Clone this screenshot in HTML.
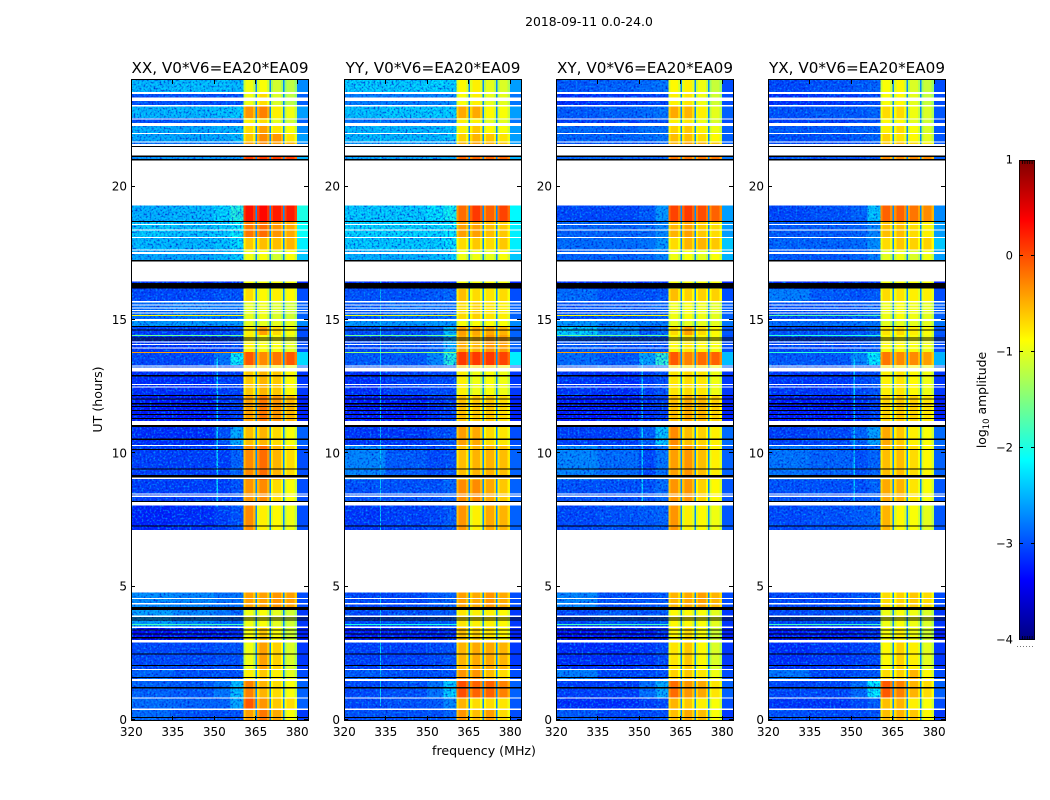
<!DOCTYPE html>
<html lang="en">
<head>
<meta charset="utf-8">
<title>2018-09-11 0.0-24.0 dynamic spectra</title>
<style>
html,body{margin:0;padding:0;background:#fff;width:1050px;height:800px;overflow:hidden}
svg{display:block}
text{font-family:"DejaVu Sans","Liberation Sans",sans-serif;fill:#000}
</style>
</head>
<body>
<svg id="fig" xmlns="http://www.w3.org/2000/svg" width="1050" height="800" viewBox="0 0 1050 800">
<defs>
<filter id="speckle" x="0" y="0" width="100%" height="100%" color-interpolation-filters="sRGB">
<feTurbulence type="fractalNoise" baseFrequency="0.5" numOctaves="2" seed="4"/>
<feColorMatrix type="matrix" values="0 0 0 0 0  0 0 0 0 0.1  0 0 0 0 0.8  2.6 0 0 0 -1.2"/>
</filter>
<filter id="speckle-light" x="0" y="0" width="100%" height="100%" color-interpolation-filters="sRGB">
<feTurbulence type="fractalNoise" baseFrequency="0.5" numOctaves="2" seed="11"/>
<feColorMatrix type="matrix" values="0 0 0 0 0  0 0 0 0 0.62  0 0 0 0 1  2.6 0 0 0 -1.25"/>
</filter>
<linearGradient id="cbar-gradient" x1="0" y1="1" x2="0" y2="0"></linearGradient>
</defs>
<text x="589" y="26" font-size="12.4" text-anchor="middle">2018-09-11 0.0-24.0</text>
<text x="484" y="755" font-size="12.6" text-anchor="middle">frequency (MHz)</text>
<text x="0" y="0" font-size="12.6" text-anchor="middle" transform="translate(102,399.5) rotate(-90)">UT (hours)</text>
<g id="panels"></g>
<g id="colorbar"></g>
<text x="0" y="0" font-size="12.4" text-anchor="middle" transform="translate(986,400) rotate(-90)">log<tspan font-size="8.5" dy="3">10</tspan><tspan dy="-3"> amplitude</tspan></text>
</svg>
<script>
// ---------- DATA (log10 amplitude) ----------
const panelNames = ["XX", "YY", "XY", "YX"];
const titleSuffix = ", V0*V6=EA20*EA09";
const xTickLabels = [320, 335, 350, 365, 380];
const yTickLabels = [0, 5, 10, 15, 20];
const colorbarTicks = [1, 0, -1, -2, -3, -4];

// UT edges of the time bands, top of the plot to the bottom
const utBandEdges = [24,23.55,23.06,22.58,22.28,22.01,21.68,21.49,21.11,21,19.29,18.68,18.08,17.63,17.25,16.44,16.17,15.71,14.96,14.78,14.44,13.8,13.31,13.07,12.19,11.21,11.06,10.28,9,8.18,8.06,7.13,4.79,4.13,3.45,2.96,1.88,1.46,0.83,0.38,0];

// Frequency columns of each row: 320-335, 335-350, 350-356, 356-360.5, sub-bands A B C D, 380-384
const xxLevels = [
[-2.4,-2.35,-2.35,-2.4,-0.95,-0.9,-1.1,-1.2,-2.7],
[-3,-3,-3,-3,-0.95,-0.7,-1.05,-1.2,-2.9],
[-2.4,-2.4,-2.35,-2.3,-0.35,-0.25,-0.8,-0.95,-2.6],
[-3,-2.9,-2.9,-2.9,-0.8,-0.7,-1,-1.1,-2.9],
[-2.45,-2.5,-2.45,-2.4,-0.7,-0.4,-0.75,-0.9,-2.7],
[-2.5,-2.5,-2.5,-2.4,-0.6,-0.3,-0.35,-0.75,-2.6],
[-2.8,-2.8,-2.8,-2.7,-0.4,-0.3,-0.4,-0.5,-2.7],
null,
[-2.6,-2.6,-2.6,-2.6,0.1,0.1,0.1,0.1,-2.5],
null,
[-2.45,-2.4,-2.25,-1.95,0.3,0.35,0.25,0.25,-2],
[-2.3,-2.35,-2.3,-2.1,-0.2,-0.15,-0.35,-0.45,-2.1],
[-2.4,-2.4,-2.35,-2.2,-0.6,-0.55,-0.55,-0.5,-2.2],
[-2.5,-2.5,-2.4,-2.3,-0.95,-0.9,-1.1,-0.9,-2.4],
null,
[-3.2,-3.2,-3.2,-3.2,-0.9,-0.9,-0.9,-0.9,-3.2],
[-3.05,-3.05,-3,-3,-0.7,-0.85,-0.8,-0.85,-3],
[-2.85,-2.75,-2.8,-2.8,-1,-0.95,-1.05,-1.1,-2.9],
[-2.6,-2.6,-2.6,-2.6,-1,-1,-1,-1,-2.7],
[-3.1,-3.1,-3.05,-3,-0.8,-0.4,-0.7,-0.9,-3],
[-3.15,-3.15,-3.1,-3.05,-0.8,-0.9,-0.9,-1,-3],
[-3.05,-3.05,-2.8,-2.1,-0.05,-0.3,-0.2,-0.05,-2.3],
[-3,-3,-3,-2.9,-0.7,-0.7,-0.8,-0.9,-2.9],
[-3.2,-3.2,-3.1,-3.1,-0.6,-0.5,-0.6,-0.85,-3.1],
[-3.3,-3.3,-3.2,-3.1,-0.4,-0.2,-0.35,-0.5,-3.2],
[-3.3,-3.3,-3.2,-3.1,-0.5,-0.5,-0.5,-0.5,-3.2],
[-3.2,-3.2,-3,-2.5,-0.55,-0.5,-0.7,-0.9,-2.9],
[-3.1,-3.1,-3.1,-2.9,-0.3,-0.15,-0.5,-0.7,-3],
[-3.1,-3.1,-3.1,-3,-0.35,-0.3,-0.7,-0.9,-3],
[-3.1,-3.1,-3.1,-3,-0.35,-0.3,-0.7,-0.9,-3],
[-3.25,-3.2,-3.1,-3,-0.3,-0.8,-0.85,-0.95,-3],
null,
[-2.65,-2.7,-2.8,-2.8,-0.4,-0.4,-0.35,-0.4,-3],
[-2.55,-2.7,-2.8,-2.9,-0.95,-0.9,-1,-1.1,-3.1],
[-3.4,-3.3,-3.3,-3.2,-0.9,-0.6,-0.9,-1.1,-3.2],
[-3.05,-3.05,-3,-3,-0.95,-0.4,-0.65,-1.05,-3.1],
[-2.9,-3,-3,-3,-0.8,-0.6,-0.8,-1,-3],
[-2.9,-2.95,-2.8,-2.4,-0.25,-0.5,-0.7,-0.9,-2.9],
[-2.85,-2.9,-2.9,-2.5,-0.05,-0.35,-0.6,-0.7,-2.9],
[-2.85,-3,-3,-3,-0.4,-0.2,-0.45,-0.9,-3.1]
];
const yyLevels = [
[-2.3,-2.3,-2.25,-2.3,-0.85,-0.8,-1,-1.05,-2.6],
[-2.75,-2.75,-2.7,-2.65,-0.9,-0.8,-1,-1,-2.8],
[-2.35,-2.3,-2.3,-2.3,-0.45,-0.45,-0.85,-0.9,-2.6],
[-2.8,-2.8,-2.75,-2.7,-0.8,-0.8,-1,-1,-2.8],
[-2.4,-2.4,-2.4,-2.35,-0.8,-0.6,-0.85,-0.9,-2.6],
[-2.4,-2.4,-2.4,-2.35,-0.65,-0.5,-0.6,-0.75,-2.6],
[-2.6,-2.6,-2.6,-2.6,-0.5,-0.4,-0.5,-0.6,-2.6],
null,
[-2.5,-2.5,-2.5,-2.5,-0.1,-0.1,-0.1,-0.1,-2.5],
null,
[-2.3,-2.3,-2.2,-2.05,-0.15,0.1,-0.1,0.05,-2.15],
[-2.25,-2.25,-2.25,-2.15,-0.4,-0.4,-0.55,-0.6,-2.2],
[-2.3,-2.3,-2.3,-2.2,-0.7,-0.6,-0.7,-0.6,-2.2],
[-2.45,-2.45,-2.4,-2.3,-0.95,-0.95,-1,-0.9,-2.4],
null,
[-3.2,-3.2,-3.2,-3.2,-0.9,-0.9,-0.9,-0.9,-3.2],
[-3,-3,-2.95,-2.9,-0.55,-0.7,-0.75,-0.7,-3],
[-2.95,-2.85,-2.85,-2.85,-0.7,-0.65,-0.75,-0.8,-2.9],
[-2.6,-2.6,-2.6,-2.6,-0.9,-0.9,-0.9,-0.9,-2.7],
[-3,-3,-2.9,-2.4,-0.4,-0.45,-0.45,-0.5,-2.9],
[-3.05,-3,-2.9,-2.5,-0.45,-0.5,-0.35,-0.4,-2.9],
[-2.95,-2.95,-2.7,-1.95,0.1,0.1,0.1,0.05,-2.2],
[-3,-3,-3,-2.9,-0.6,-0.7,-0.7,-0.8,-2.9],
[-3.2,-3.1,-3.05,-3.05,-0.8,-0.95,-0.9,-0.95,-3.1],
[-3.3,-3.3,-3.2,-3.1,-0.55,-0.6,-0.6,-0.7,-3.2],
[-3.3,-3.3,-3.2,-3.1,-0.6,-0.6,-0.6,-0.6,-3.2],
[-3.15,-3.15,-3.05,-3,-0.4,-0.45,-0.7,-0.75,-3],
[-2.7,-2.95,-3.05,-3,-0.55,-0.5,-0.5,-0.55,-2.9],
[-3,-3,-3,-2.9,-0.3,-0.3,-0.45,-0.6,-2.9],
[-3,-3,-3,-2.9,-0.3,-0.3,-0.45,-0.6,-2.9],
[-3.15,-3.1,-3.05,-2.95,-0.35,-0.8,-0.45,-0.5,-2.9],
null,
[-3.05,-3.05,-2.95,-2.9,-0.4,-0.45,-0.35,-0.45,-3],
[-3.05,-3,-2.95,-2.95,-0.75,-0.8,-0.8,-0.85,-3.1],
[-3.3,-3.25,-3.25,-3.2,-0.55,-0.65,-0.75,-0.85,-3.2],
[-3.1,-3.1,-3.05,-3,-0.5,-0.45,-0.45,-0.5,-3.1],
[-2.95,-3,-3,-3,-0.35,-0.35,-0.55,-0.7,-3],
[-3.05,-3,-2.8,-2.3,0,-0.1,-0.1,-0.25,-2.9],
[-3.05,-3,-2.95,-2.7,-0.5,-0.7,-0.7,-0.75,-2.95],
[-3,-3,-3,-2.9,-0.35,-0.55,-0.4,-0.7,-3]
];
const xyLevels = [
[-2.95,-2.9,-2.85,-2.8,-0.85,-0.8,-0.95,-1.15,-3],
[-3.2,-3.15,-3.1,-3.05,-0.8,-0.75,-0.95,-1.1,-3],
[-2.95,-2.9,-2.85,-2.8,-0.45,-0.5,-0.8,-1,-2.9],
[-3.1,-3.1,-3,-3,-0.8,-0.75,-0.95,-1.05,-3],
[-2.85,-2.9,-2.8,-2.8,-0.65,-0.6,-0.8,-0.95,-2.9],
[-2.9,-2.9,-2.85,-2.8,-0.55,-0.55,-0.7,-0.85,-2.9],
[-3,-3,-3,-2.9,-0.5,-0.4,-0.5,-0.6,-2.9],
null,
[-2.9,-2.9,-2.9,-2.9,-0.2,-0.2,-0.2,-0.2,-2.8],
null,
[-3.05,-3.05,-2.95,-2.6,0.05,0.1,0,-0.1,-2.6],
[-2.9,-2.9,-2.85,-2.7,-0.5,-0.4,-0.6,-0.7,-2.6],
[-2.85,-2.85,-2.8,-2.6,-0.7,-0.5,-0.5,-0.6,-2.4],
[-2.9,-2.9,-2.85,-2.7,-0.95,-0.9,-1,-0.9,-2.5],
null,
[-3.2,-3.2,-3.2,-3.2,-0.9,-0.9,-0.9,-0.9,-3.2],
[-2.85,-3,-3,-2.95,-0.55,-0.65,-0.65,-0.65,-3],
[-3,-2.95,-2.95,-2.9,-0.95,-0.9,-0.95,-1,-2.9],
[-2.6,-2.7,-2.75,-2.75,-1,-1,-1,-1,-2.8],
[-2.3,-2.65,-2.95,-2.85,-0.7,-0.4,-0.7,-0.85,-2.95],
[-2.95,-3,-3,-3,-0.85,-0.75,-0.85,-0.9,-3],
[-2.85,-2.95,-2.55,-1.9,-0.05,-0.25,-0.15,-0.1,-2.45],
[-2.95,-2.95,-2.95,-2.85,-0.7,-0.75,-0.75,-0.9,-2.9],
[-3.15,-3.2,-3.1,-3,-0.75,-0.7,-0.75,-0.95,-3.1],
[-3.3,-3.3,-3.2,-3.1,-0.55,-0.45,-0.5,-0.65,-3.2],
[-3.3,-3.3,-3.2,-3.1,-0.6,-0.6,-0.6,-0.6,-3.2],
[-3.1,-3.1,-2.95,-2.35,-0.3,-0.55,-0.65,-0.8,-2.85],
[-2.7,-2.85,-3.05,-2.8,-0.4,-0.35,-0.55,-0.8,-2.9],
[-3,-3,-3,-2.85,-0.35,-0.35,-0.65,-0.85,-2.95],
[-3,-3,-3,-2.85,-0.35,-0.35,-0.65,-0.85,-2.95],
[-3.05,-3,-2.95,-2.9,-0.35,-0.8,-0.85,-0.95,-2.95],
null,
[-2.7,-3,-3,-2.95,-0.5,-0.45,-0.4,-0.5,-3],
[-3.05,-2.95,-3,-2.95,-0.85,-0.85,-0.9,-1,-3.1],
[-3.35,-3.3,-3.3,-3.2,-0.85,-0.7,-0.9,-1.1,-3.2],
[-3.2,-3.2,-3.15,-3.05,-0.75,-0.6,-0.85,-1.05,-3.1],
[-2.75,-3.05,-3.05,-3,-0.65,-0.6,-0.75,-0.95,-3],
[-3.1,-3.1,-2.85,-2.5,-0.15,-0.35,-0.45,-0.75,-2.9],
[-3.2,-3.2,-3.1,-3.05,-0.5,-0.6,-0.8,-0.9,-3],
[-2.95,-3.05,-3.05,-3,-0.55,-0.45,-0.55,-0.9,-3.1]
];
const yxLevels = [
[-3.05,-3,-2.95,-2.9,-0.9,-0.85,-1.05,-1.15,-3],
[-3.2,-3.15,-3.1,-3.05,-0.9,-0.85,-1,-1.15,-3],
[-3,-2.95,-2.95,-2.9,-0.7,-0.7,-0.95,-1.05,-2.95],
[-3.1,-3.1,-3.05,-3,-0.85,-0.85,-1,-1.1,-3],
[-2.95,-2.95,-2.9,-2.9,-0.8,-0.7,-0.9,-1.05,-2.95],
[-3,-3,-2.95,-2.9,-0.65,-0.75,-0.85,-1,-2.95],
[-3.05,-3.05,-3,-2.95,-0.6,-0.55,-0.7,-0.8,-2.95],
null,
[-3,-3,-3,-3,-0.3,-0.3,-0.3,-0.3,-2.9],
null,
[-3.05,-3,-2.9,-2.35,-0.1,-0.1,-0.2,-0.3,-2.7],
[-2.95,-2.95,-2.9,-2.7,-0.55,-0.55,-0.7,-0.8,-2.6],
[-2.9,-2.9,-2.85,-2.65,-0.7,-0.6,-0.65,-0.65,-2.4],
[-2.95,-2.95,-2.9,-2.75,-1,-0.95,-1.05,-0.95,-2.6],
null,
[-3.2,-3.2,-3.2,-3.2,-0.9,-0.9,-0.9,-0.9,-3.2],
[-2.75,-2.95,-3,-2.95,-0.7,-0.75,-0.8,-0.8,-3],
[-3,-3,-2.95,-2.9,-0.95,-0.9,-0.95,-1,-2.9],
[-2.85,-2.85,-2.8,-2.8,-1,-1,-1,-1,-2.8],
[-3,-3,-2.95,-2.85,-0.75,-0.7,-0.8,-0.9,-2.95],
[-3.05,-3.05,-3,-2.95,-0.85,-0.85,-0.9,-0.95,-3],
[-2.95,-2.95,-2.7,-2.15,-0.2,-0.3,-0.3,-0.4,-2.5],
[-3,-3,-2.95,-2.9,-0.75,-0.8,-0.85,-0.95,-2.9],
[-3.15,-3.15,-3.05,-3,-0.8,-0.75,-0.85,-0.95,-3.1],
[-3.3,-3.3,-3.2,-3.1,-0.65,-0.6,-0.65,-0.75,-3.2],
[-3.3,-3.3,-3.2,-3.1,-0.7,-0.7,-0.7,-0.7,-3.2],
[-3.1,-3.05,-2.9,-2.55,-0.45,-0.6,-0.8,-0.9,-2.85],
[-2.8,-2.9,-3,-2.9,-0.55,-0.55,-0.7,-0.85,-2.9],
[-3,-3,-3,-2.9,-0.45,-0.5,-0.75,-0.9,-2.95],
[-3,-3,-3,-2.9,-0.45,-0.5,-0.75,-0.9,-2.95],
[-3.05,-3,-2.95,-2.9,-0.5,-0.85,-0.9,-1,-2.95],
null,
[-3.05,-3.05,-3,-2.95,-0.7,-0.65,-0.6,-0.7,-3],
[-3.05,-3,-3,-2.95,-0.95,-0.9,-0.95,-1.05,-3.1],
[-3.3,-3.3,-3.25,-3.2,-0.9,-0.8,-0.95,-1.1,-3.2],
[-3.2,-3.15,-3.1,-3.05,-0.85,-0.65,-0.8,-1,-3.1],
[-2.8,-3.05,-3,-2.95,-0.7,-0.65,-0.5,-0.85,-3],
[-3.05,-3.05,-2.85,-2.15,-0.05,-0.25,-0.5,-0.7,-2.9],
[-3.15,-3.15,-3.05,-2.95,-0.55,-0.5,-0.8,-0.9,-3],
[-3,-3.05,-3.05,-3,-0.55,-0.5,-0.6,-0.85,-3.1]
];
const panelLevels = [xxLevels, yyLevels, xyLevels, yxLevels];

// frequency segments of a row (MHz), the column they read, and the within-band edge roll-off
const segmentEdges = [320,335,350,356,360.6,361.4,364.2,365,365.6,366.4,369.2,370,370.6,371.4,374.2,375,375.5,376.2,379.2,380,384];
const segmentColumn = [0,1,2,3,4,4,4,-1,5,5,5,-1,6,6,6,-1,7,7,7,8];
const segmentOffset = [0,0,0,0,-0.22,0,-0.22,0,-0.22,0,-0.22,0,-0.22,0,-0.22,0,-0.22,0,-0.22,0];
const notchLevel = -2.7;

// flagged time ranges common to all panels [upper UT, lower UT]
const whiteFlags = [[23.55,23.48],[23.34,23.22],[23.06,23],[22.56,22.52],[22.38,22.28],[22.02,21.98],[21.69,21.65],[21.6,21.52],[18.6,18.56],[18.4,18.35],[18.11,18.08],[17.65,17.61],[17.55,17.48],[15.71,15.66],[15.59,15.55],[15.46,15.43],[15.38,15.33],[15.29,15.25],[15.04,14.96],[14.2,14.15],[14.1,14.06],[13.97,13.93],[13.3,13.26],[13.21,13.06],[12.6,12.56],[12.51,12.49],[11.21,11.06],[10.31,10.28],[9.09,9.04],[8.5,8.46],[8.41,8.37],[8.18,8.05],[4.58,4.54],[4.38,4.34],[3.91,3.87],[3.5,3.45],[3,2.91],[1.91,1.88],[1.54,1.46],[0.85,0.8],[0.44,0.38]];
const blackFlags = [[21.52,21.49],[21.16,21.11],[21.03,20.99],[18.71,18.68],[17.25,17.19],[16.38,16.18],[14.78,14.73],[14.65,14.63],[14.34,14.3],[14.27,14.23],[12.93,12.89],[12.19,12.15],[12.06,12.02],[11.88,11.84],[11.78,11.74],[11.63,11.59],[11.48,11.44],[11.32,11.28],[11.06,10.98],[10.56,10.5],[10.16,10.13],[9.44,9.4],[9.19,9.09],[8.21,8.18],[7.29,7.25],[4.23,4.13],[3.85,3.82],[3.76,3.73],[3.4,3.38],[3.25,3.21],[3.12,3.05],[2.5,2.46],[2.06,2.02],[1.62,1.59],[1.23,1.19],[0.11,0.08]];

// bright interference rows per panel: UT, level
const xxBrightUT = [15.19,14.44,13.8,3.6];
const xxBrightLevel = [-0.9,-1.6,-0.4,-1.8];
const yyBrightUT = [15.19,14.44,13.8,3.6];
const yyBrightLevel = [-1,-1.6,-1.4,-2];
const xyBrightUT = [15.19,14.44,13.8,3.6];
const xyBrightLevel = [-0.9,-1.6,-0.4,-1.8];
const yxBrightUT = [15.19,14.44,13.8,3.6];
const yxBrightLevel = [-1.7,-1.9,-1.9,-1.8];
const panelBrightUT = [xxBrightUT, yyBrightUT, xyBrightUT, yxBrightUT];
const panelBrightLevel = [xxBrightLevel, yyBrightLevel, xyBrightLevel, yxBrightLevel];

// narrow vertical interference channels: MHz, level, UT range
const rfiFreq = [[351,-2.2],[333,-2.3],[351,-2.3],[351,-2.3]];
const rfiUTRange = [[8,13.6],[0.5,23],[8,13.6],[8,13.6]];

// ---------- LAYOUT + SCALES ----------
const NS = "http://www.w3.org/2000/svg";
const panelLeft = [131, 344, 556, 768];
const panelW = 177, plotTop = 80, plotBottom = 720;
const fMin = 320, fMax = 384, utMin = 0, utMax = 24, vMin = -4, vMax = 1;
const xScale = (p, f) => panelLeft[p] + (f - fMin) / (fMax - fMin) * panelW;
const yScale = ut => plotBottom - (ut - utMin) / (utMax - utMin) * (plotBottom - plotTop);
const cbarLeft = 1019, cbarW = 16, cbarTop = 160, cbarBottom = 640;
const cbarY = v => cbarBottom - (v - vMin) / (vMax - vMin) * (cbarBottom - cbarTop);

function jet(v) {
  const t = Math.max(0, Math.min(1, (v - vMin) / (vMax - vMin)));
  const c = x => Math.round(255 * Math.max(0, Math.min(1, x)));
  return "rgb(" + c(Math.min(4 * t - 1.5, -4 * t + 4.5)) + "," + c(Math.min(4 * t - 0.5, -4 * t + 3.5)) + "," + c(Math.min(4 * t + 0.5, -4 * t + 2.5)) + ")";
}
function mk(tag, attrs, parent) {
  const el = document.createElementNS(NS, tag);
  for (const k in attrs) el.setAttribute(k, attrs[k]);
  parent.appendChild(el);
  return el;
}

const root = document.getElementById("panels");
panelNames.forEach((name, p) => {
  const g = mk("g", {}, root);
  
  
  const x0 = panelLeft[p], x1 = x0 + panelW;

  // heatmap cells
  const cells = mk("g", {"shape-rendering": "crispEdges"}, g);
  
  
  const levels = panelLevels[p];
  levels.forEach((row, r) => {
    if (!row) return;
    const yA = yScale(utBandEdges[r]), yB = yScale(utBandEdges[r + 1]);
    segmentColumn.forEach((col, s) => {
      const xA = xScale(p, segmentEdges[s]), xB = xScale(p, segmentEdges[s + 1]);
      const value = col < 0 ? notchLevel : row[col] + segmentOffset[s];
      const cell = mk("rect", {x: xA, y: yA, width: xB - xA, height: yB - yA, fill: jet(value)}, cells);
      
      
    });
  });

  // vertical interference channel
  const rfi = mk("rect", {x: xScale(p, rfiFreq[p][0]), y: yScale(rfiUTRange[p][1]), width: 1.2, height: yScale(rfiUTRange[p][0]) - yScale(rfiUTRange[p][1]), fill: jet(rfiFreq[p][1]), "shape-rendering": "crispEdges"}, g);
  
  

  // noise texture over the continuum part (decorative, not data)
  const noise = mk("rect", {x: x0, y: plotTop, width: xScale(p, 360.6) - x0, height: plotBottom - plotTop, filter: "url(#speckle)"}, g);
  
  
  const noise2 = mk("rect", {x: x0, y: plotTop, width: xScale(p, 360.6) - x0, height: plotBottom - plotTop, filter: "url(#speckle-light)"}, g);
  
  

  // bright interference rows
  panelBrightUT[p].forEach((ut, i) => {
    const line = mk("rect", {x: x0, y: yScale(ut), width: xScale(p, 360.6) - x0, height: 1, fill: jet(panelBrightLevel[p][i]), "shape-rendering": "crispEdges"}, g);
    
    
  });

  // empty bands and flagged rows
  levels.forEach((row, r) => {
    if (row) return;
    const gap = mk("rect", {x: x0, y: yScale(utBandEdges[r]), width: panelW, height: yScale(utBandEdges[r + 1]) - yScale(utBandEdges[r]), fill: "#fff", "shape-rendering": "crispEdges"}, g);
    
    
  });
  whiteFlags.forEach(f => {
    const w = mk("rect", {x: x0, y: yScale(f[0]), width: panelW, height: Math.max(1, yScale(f[1]) - yScale(f[0])), fill: "#fff", "shape-rendering": "crispEdges"}, g);
    
    
  });
  blackFlags.forEach(f => {
    const b = mk("rect", {x: x0, y: yScale(f[0]), width: panelW, height: Math.max(1, yScale(f[1]) - yScale(f[0])), fill: "#000", "shape-rendering": "crispEdges"}, g);
    
    
  });

  // frame
  const frame = mk("rect", {x: x0 + 0.5, y: plotTop - 0.5, width: panelW, height: plotBottom - plotTop + 1, fill: "none", stroke: "#000", "stroke-width": 1, "shape-rendering": "crispEdges"}, g);
  
  

  // x ticks
  xTickLabels.forEach(f => {
    const x = Math.round(xScale(p, f)) + 0.5;
    const tb = mk("line", {x1: x, x2: x, y1: plotBottom, y2: plotBottom - 4, stroke: "#000", "shape-rendering": "crispEdges"}, g);
    
    
    const tt = mk("line", {x1: x, x2: x, y1: plotTop, y2: plotTop + 4, stroke: "#000", "shape-rendering": "crispEdges"}, g);
    
    
    const lab = mk("text", {x: xScale(p, f) + 0.3, y: 736, "font-size": 12, "text-anchor": "middle"}, g);
    lab.textContent = f;
    
    
  });

  // y ticks
  yTickLabels.forEach(ut => {
    const y = Math.round(yScale(ut)) - 0.5;
    const tl = mk("line", {x1: x0, x2: x0 + 4, y1: y, y2: y, stroke: "#000", "shape-rendering": "crispEdges"}, g);
    
    
    const tr = mk("line", {x1: x1 - 4, x2: x1, y1: y, y2: y, stroke: "#000", "shape-rendering": "crispEdges"}, g);
    
    
    const lab = mk("text", {x: x0 - 4, y: yScale(ut) + 4, "font-size": 12, "text-anchor": "end"}, g);
    lab.textContent = ut;
    
    
  });

  // title
  const title = mk("text", {x: x0 + panelW / 2 + 0.5, y: 73, "font-size": 15.2, "text-anchor": "middle"}, g);
  title.textContent = name + titleSuffix;
  
  
});

// ---------- COLORBAR ----------
const grad = document.getElementById("cbar-gradient");
for (let i = 0; i <= 40; i++) {
  mk("stop", {offset: i / 40, "stop-color": jet(vMin + (vMax - vMin) * i / 40)}, grad);
}
const cb = document.getElementById("colorbar");
const cbRect = mk("rect", {x: cbarLeft, y: cbarTop, width: cbarW, height: cbarBottom - cbarTop, fill: "url(#cbar-gradient)"}, cb);


const cbFrame = mk("rect", {x: cbarLeft + 0.5, y: cbarTop + 0.5, width: cbarW - 1, height: cbarBottom - cbarTop - 1, fill: "none", stroke: "#000", "stroke-opacity": 0.85, "shape-rendering": "crispEdges"}, cb);


colorbarTicks.forEach(v => {
  const y = Math.round(cbarY(v)) - 0.5;
  if (v < 1 && v > -4) {
    const t1 = mk("line", {x1: cbarLeft, x2: cbarLeft + 4, y1: y, y2: y, stroke: "#000", "shape-rendering": "crispEdges"}, cb);
    
    
    const t2 = mk("line", {x1: cbarLeft + cbarW - 4, x2: cbarLeft + cbarW, y1: y, y2: y, stroke: "#000", "shape-rendering": "crispEdges"}, cb);
    
    
  }
  const lab = mk("text", {x: cbarLeft - 6, y: cbarY(v) + 3.5, "font-size": 11.5, "text-anchor": "end"}, cb);
  lab.textContent = (v < 0 ? "\u2212" + (-v) : "" + v);
  
  
});
for (let i = 0; i < 5; i++) {
  const x = cbarLeft + 3.5 + i * 2.4;
  const m1 = mk("line", {x1: x, x2: x, y1: cbarTop, y2: cbarTop + 4, stroke: "#000", "stroke-opacity": 0.8}, cb);
  
  
  const m2 = mk("line", {x1: x, x2: x, y1: cbarBottom, y2: cbarBottom - 4, stroke: "#000", "stroke-opacity": 0.8}, cb);
  
  
}
const dots = mk("line", {x1: cbarLeft - 2, x2: cbarLeft + cbarW, y1: 646.5, y2: 646.5, stroke: "#777", "stroke-dasharray": "1 2"}, cb);


</script>
</body>
</html>
